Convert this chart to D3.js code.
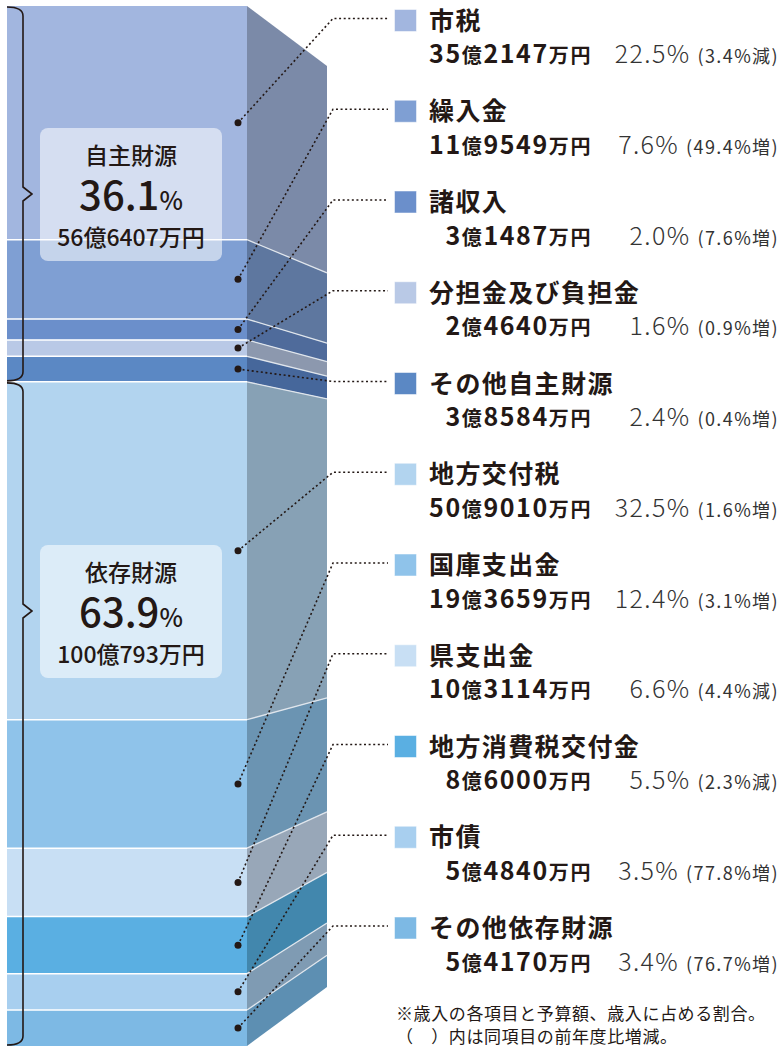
<!DOCTYPE html>
<html>
<head>
<meta charset="utf-8">
<script src="https://cdn.jsdelivr.net/npm/d3@7"></script>
<style>
  body { margin: 0; background: #fff; }
  text { font-family: "Noto Sans CJK JP", "Noto Sans", sans-serif; fill: #231815; }
</style>
</head>
<body>
<div id="chart"></div>
<script>

// revenue items, amounts in 万円
const items = ["市税", "繰入金", "諸収入", "分担金及び負担金", "その他自主財源",
    "地方交付税", "国庫支出金", "県支出金", "地方消費税交付金", "市債", "その他依存財源"];
const amounts = [352147, 119549, 31487, 24640, 38584,
    509010, 193659, 103114, 86000, 54840, 54170];
const shares = [22.5, 7.6, 2.0, 1.6, 2.4, 32.5, 12.4, 6.6, 5.5, 3.5, 3.4];
const changes = [-3.4, 49.4, 7.6, 0.9, 0.4, 1.6, 3.1, -4.4, -2.3, 77.8, 76.7];

const groupNames = ["自主財源", "依存財源"];
const groupShares = [36.1, 63.9];
const groupAmounts = [566407, 1000793];
const groupCounts = [5, 6];

const notes = ["※歳入の各項目と予算額、歳入に占める割合。", "（　）内は同項目の前年度比増減。"];

const frontColors = ["#a2b6df", "#7f9fd3", "#6b8fcb", "#b9c9e6", "#5b88c4",
    "#b2d4ef", "#8fc3ea", "#c8dff4", "#5aafe2", "#a8cfef", "#7db9e4"];
const sideColors = ["#7b8aa8", "#5e779f", "#4f6b9b", "#8c98ae", "#46679b",
    "#87a1b5", "#6b94b2", "#98a7b8", "#4287ad", "#7f9bb3", "#5d8fb2"];

/**********************
***** BASIC SETUP *****
**********************/

const width = 778;
const height = 1048;

const front = {x0: 7, x1: 247};
const sideX = 327;
// where the brace tip / summary box sits for each group
const groupLabelY = [194, 611];

const svg = d3.select("#chart")
    .append("svg")
    .attr("width", width)
    .attr("height", height);

/*************************
***** DATA WRANGLING *****
*************************/

const total = d3.sum(amounts);
const ends = Array.from(d3.cumsum(amounts));
const data = items.map((name, i) => ({
    name: name,
    amount: amounts[i],
    share: shares[i],
    change: changes[i],
    start: i === 0 ? 0 : ends[i - 1],
    end: ends[i],
    front: frontColors[i],
    side: sideColors[i],
    i: i
}));

const groupEnds = Array.from(d3.cumsum(groupCounts));
const groups = groupNames.map((name, g) => ({
    name: name,
    share: groupShares[g],
    amount: groupAmounts[g],
    start: g === 0 ? 0 : ends[groupEnds[g - 1] - 1],
    end: ends[groupEnds[g] - 1],
    labelY: groupLabelY[g]
}));

function oku(v) {
    return [Math.floor(v / 10000), v % 10000];
}

/******************
***** SCALES *****
******************/

const yScale = d3.scaleLinear()
    .domain([0, total])
    .range([6, 1046]);

// far edge of the side face is shorter (perspective)
const ySide = d3.scaleLinear()
    .domain([0, total])
    .range([66, 987]);

const yLegend = d3.scaleLinear()
    .domain([0, items.length - 1])
    .range([20.5, 928]);

/*****************
***** COLUMN *****
*****************/

const column = svg.append("g").attr("id", "column");

column.selectAll(".front")
    .data(data)
    .enter()
    .append("rect")
    .attr("class", "front")
    .attr("x", front.x0)
    .attr("y", d => yScale(d.start))
    .attr("width", front.x1 - front.x0)
    .attr("height", d => yScale(d.end) - yScale(d.start))
    .attr("fill", d => d.front);

column.selectAll(".side")
    .data(data)
    .enter()
    .append("path")
    .attr("class", "side")
    .attr("d", d => d3.line()([
        [front.x1, yScale(d.start)],
        [sideX, ySide(d.start)],
        [sideX, ySide(d.end)],
        [front.x1, yScale(d.end)]
    ]) + "Z")
    .attr("fill", d => d.side);

// separators
const inner = data.slice(1);

column.selectAll(".sepFront")
    .data(inner)
    .enter()
    .append("line")
    .attr("class", "sepFront")
    .attr("x1", front.x0)
    .attr("x2", front.x1)
    .attr("y1", d => yScale(d.start))
    .attr("y2", d => yScale(d.start))
    .attr("stroke", "#fff")
    .attr("stroke-width", 1.5);

column.selectAll(".sepSide")
    .data(inner)
    .enter()
    .append("line")
    .attr("class", "sepSide")
    .attr("x1", front.x1)
    .attr("x2", sideX)
    .attr("y1", d => yScale(d.start))
    .attr("y2", d => ySide(d.start))
    .attr("stroke", "#dfe5ec")
    .attr("stroke-width", 1.3);

/*************************
***** BRACES & BOXES *****
*************************/

const braces = svg.append("g").attr("id", "braces");

braces.selectAll(".brace")
    .data(groups)
    .enter()
    .append("path")
    .attr("class", "brace")
    .attr("d", d => {
        const y0 = yScale(d.start) + 1;
        const y1 = yScale(d.end) - 1;
        const ym = d.labelY;
        return `M7,${y0} Q23,${y0} 23,${y0 + 9} L23,${ym - 7} L32,${ym} L23,${ym + 7}`
            + ` L23,${y1 - 9} Q23,${y1} 7,${y1}`;
    })
    .attr("fill", "none")
    .attr("stroke", "#231815")
    .attr("stroke-width", 1.6);

const boxes = braces.selectAll(".groupBox")
    .data(groups)
    .enter()
    .append("g")
    .attr("class", "groupBox")
    .attr("transform", d => `translate(131, ${d.labelY})`);

boxes.append("rect")
    .attr("x", -91)
    .attr("y", -66)
    .attr("width", 182)
    .attr("height", 133)
    .attr("rx", 8)
    .attr("fill", "#fff")
    .attr("fill-opacity", 0.55);

// one text block, three lines
const boxText = boxes.append("text")
    .attr("text-anchor", "middle")
    .attr("font-weight", 500);
boxText.append("tspan")
    .attr("x", 0)
    .attr("y", -30)
    .attr("font-size", 23)
    .text(d => d.name);
boxText.append("tspan")
    .attr("x", 0)
    .attr("y", 16)
    .attr("font-size", 40)
    .text(d => d.share.toFixed(1));
boxText.append("tspan")
    .attr("font-size", 25)
    .text("%");
boxText.append("tspan")
    .attr("x", 0)
    .attr("y", 52)
    .attr("font-size", 23)
    .text(d => `${oku(d.amount)[0]}億${oku(d.amount)[1]}万円`);

/******************
***** LEADERS *****
******************/

const leaders = svg.append("g").attr("id", "leaders");

leaders.selectAll(".leader")
    .data(data)
    .enter()
    .append("path")
    .attr("class", "leader")
    .attr("d", d => d3.line()([
        [238, (yScale(d.start) + yScale(d.end)) / 2],
        [333, yLegend(d.i) - 2],
        [388, yLegend(d.i) - 2]
    ]))
    .attr("fill", "none")
    .attr("stroke", "#231815")
    .attr("stroke-width", 1.6)
    .attr("stroke-dasharray", "2,2.6");

leaders.selectAll(".dot")
    .data(data)
    .enter()
    .append("circle")
    .attr("class", "dot")
    .attr("cx", 238)
    .attr("cy", d => (yScale(d.start) + yScale(d.end)) / 2)
    .attr("r", 3.5)
    .attr("fill", "#231815");

/*****************
***** LEGEND *****
*****************/

const legend = svg.selectAll(".legendItem")
    .data(data)
    .enter()
    .append("g")
    .attr("class", "legendItem")
    .attr("transform", d => `translate(0, ${yLegend(d.i)})`);

legend.append("rect")
    .attr("x", 394.5)
    .attr("y", -11)
    .attr("width", 22)
    .attr("height", 22)
    .attr("fill", d => d.front)
    .attr("stroke", "#fff")
    .attr("stroke-opacity", 0.5);

legend.append("text")
    .attr("x", 429)
    .attr("y", 9)
    .attr("font-size", 25)
    .attr("font-weight", 700)
    .attr("letter-spacing", 1.4)
    .text(d => d.name);

const amountText = legend.append("text")
    .attr("x", 592)
    .attr("y", 42.5)
    .attr("text-anchor", "end")
    .attr("font-weight", 700)
    .attr("letter-spacing", 1.6);
amountText.append("tspan").attr("font-size", 25).text(d => oku(d.amount)[0]);
amountText.append("tspan").attr("font-size", 20).text("億");
amountText.append("tspan").attr("font-size", 25).text(d => oku(d.amount)[1]);
amountText.append("tspan").attr("font-size", 20).text("万円");

const shareText = legend.append("text")
    .attr("x", 779)
    .attr("y", 42.5)
    .attr("text-anchor", "end")
    .attr("letter-spacing", 1.4);
shareText.append("tspan")
    .attr("font-size", 25)
    .attr("font-weight", 300)
    .attr("fill", "#333")
    .text(d => d.share.toFixed(1) + "% ");
shareText.append("tspan")
    .attr("font-size", 18)
    .attr("fill", "#333")
    .text(d => `(${Math.abs(d.change).toFixed(1)}%${d.change < 0 ? "減" : "増"})`);

/*******************
***** FOOTNOTE *****
*******************/

const caption = svg.append("text")
    .attr("class", "captionText")
    .attr("font-size", 17)
    .attr("letter-spacing", 0.6)
    .attr("fill", "#333");

caption.selectAll("tspan")
    .data(notes)
    .enter()
    .append("tspan")
    .attr("x", 396)
    .attr("y", (d, i) => 1020 + i * 23)
    .text(d => d);

</script>
</body>
</html>
